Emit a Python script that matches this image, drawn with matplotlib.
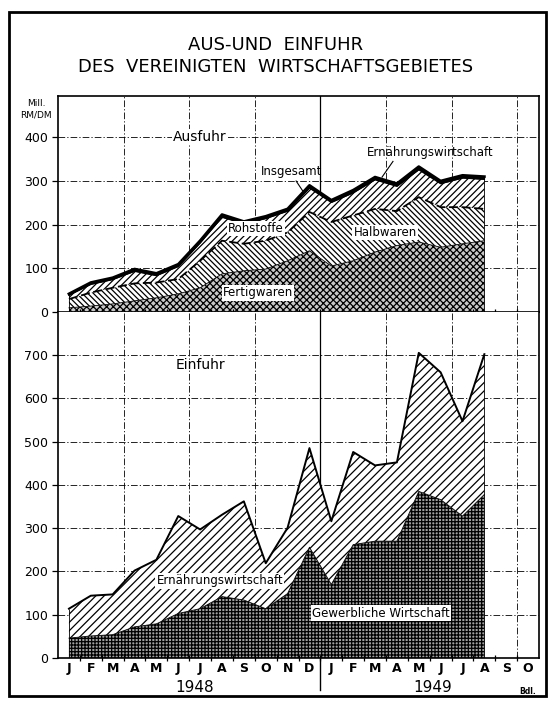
"""
Aus- und Einfuhr des Vereinigten Wirtschaftsgebietes, 1948-1949.
"""

import matplotlib
matplotlib.use("Agg")
import matplotlib.pyplot as plt
from matplotlib.patches import Rectangle
from matplotlib.lines import Line2D
import numpy as np

# months Jan 1948 .. Oct 1949 (data through Aug 1949)
month_labels = ["J", "F", "M", "A", "M", "J", "J", "A", "S", "O", "N", "D",
                "J", "F", "M", "A", "M", "J", "J", "A", "S", "O"]
years = ["1948", "1949"]

# Ausfuhr, Mill. RM/DM
aus_fertigwaren = [9, 13, 18, 25, 32, 41, 55, 87, 94, 98, 117, 140, 105, 117, 137, 152, 160, 148, 156, 163]
aus_halbwaren = [20, 31, 37, 40, 35, 34, 62, 76, 62, 65, 65, 89, 101, 104, 99, 79, 103, 92, 84, 73]
aus_rohstoffe = [9, 19, 19, 28, 16, 29, 41, 54, 46, 51, 49, 55, 45, 52, 67, 57, 63, 54, 67, 68]
aus_ernaehrung = [3, 4, 4, 5, 5, 5, 5, 6, 5, 5, 5, 6, 5, 6, 6, 6, 7, 6, 6, 6]

# Einfuhr, Mill. RM/DM
ein_gewerblich = [46, 51, 54, 72, 79, 103, 114, 142, 134, 114, 149, 256, 170, 262, 270, 270, 385, 366, 328, 378]
ein_ernaehrung = [68, 93, 93, 130, 148, 225, 183, 189, 228, 105, 152, 229, 146, 214, 175, 182, 320, 294, 219, 324]

plt.rcParams["font.family"] = ["DejaVu Sans"]
plt.rcParams["hatch.linewidth"] = 0.9

fig = plt.figure(figsize=(5.52, 7.01), dpi=100)
ax1 = fig.add_axes([0.1051, 0.5553, 0.8714, 0.3077])
ax2 = fig.add_axes([0.1051, 0.0613, 0.8714, 0.4940])

x = np.arange(len(aus_fertigwaren))
f1 = np.array(aus_fertigwaren)
f2 = f1 + np.array(aus_halbwaren)
f3 = f2 + np.array(aus_rohstoffe)
f4 = f3 + np.array(aus_ernaehrung)
g1 = np.array(ein_gewerblich)
g2 = g1 + np.array(ein_ernaehrung)

grid_kw = dict(color="black", lw=0.6, dashes=(8, 2.5, 1.5, 2.5), zorder=0.5)


def frame(ax, ymax, step):
    ax.set_xlim(-0.5, 21.5)
    ax.set_ylim(0, ymax)
    for q in [2.5, 5.5, 8.5, 14.5, 17.5, 20.5]:
        ax.axvline(q, **grid_kw)
    ax.axvline(11.5, color="black", lw=0.9, zorder=0.5)
    for v in range(step, int(ymax), step):
        ax.axhline(v, **grid_kw)
    ax.set_yticks(range(0, int(ymax), step))
    ax.tick_params(axis="y", length=4, width=0.9, pad=3, labelsize=9)
    ax.set_xticks(np.arange(0.5, 21, 1), minor=True)
    ax.tick_params(axis="x", which="minor", length=4, width=0.9, direction="inout")
    for s in ax.spines.values():
        s.set_linewidth(1.2)


# top panel: Ausfuhr
frame(ax1, 495, 100)
ax1.set_xticks([])
ax1.fill_between(x, 0, f1, facecolor="#c8c8c8", edgecolor="black", hatch="xxxxx", lw=0, zorder=1)
ax1.fill_between(x, f1, f2, facecolor="white", edgecolor="black", hatch="\\\\\\\\\\\\", lw=0, zorder=1)
ax1.fill_between(x, f2, f3, facecolor="white", edgecolor="black", hatch="/////", lw=0, zorder=1)
ax1.fill_between(x, f3, f4, facecolor="black", edgecolor="black", lw=0, zorder=1)
ax1.plot(x, f1, color="black", lw=0.6, zorder=2)
ax1.plot(x, f2, color="black", lw=1.3, dashes=(5, 2), zorder=2)
ax1.plot(x, f3, color="black", lw=1.0, zorder=2)
ax1.plot(x, f4, color="black", lw=2.0, zorder=2)
ax1.vlines([x[0], x[-1]], 0, [f4[0], f4[-1]], color="black", lw=0.6, zorder=2)

wbox = dict(facecolor="white", edgecolor="none", pad=0.8)
ax1.text(6.0, 401, "Ausfuhr", ha="center", va="center", fontsize=10, bbox=wbox, zorder=3)
ax1.text(10.2, 322, "Insgesamt", ha="center", va="center", fontsize=8.5, zorder=3)
ax1.add_line(Line2D([10.39, 10.71], [300, 276], color="black", lw=0.8, zorder=3))
ax1.text(16.5, 366, "Ernährungswirtschaft", ha="center", va="center", fontsize=8.5, zorder=3)
ax1.add_line(Line2D([14.82, 14.32], [345, 309], color="black", lw=0.8, zorder=3))
ax1.text(8.56, 191, "Rohstoffe", ha="center", va="center", fontsize=8.5, bbox=wbox, zorder=3)
ax1.text(14.46, 182, "Halbwaren", ha="center", va="center", fontsize=8.5, bbox=wbox, zorder=3)
ax1.text(8.65, 43, "Fertigwaren", ha="center", va="center", fontsize=8.5, bbox=wbox, zorder=3)

# bottom panel: Einfuhr
frame(ax2, 800, 100)
ax2.spines["top"].set_visible(False)
ax2.fill_between(x, 0, g1, facecolor="#a0a0a0", edgecolor="black", hatch="+++++", lw=0, zorder=1)
ax2.fill_between(x, g1, g2, facecolor="white", edgecolor="black", hatch="////", lw=0, zorder=1)
ax2.plot(x, g1, color="black", lw=0.6, zorder=2)
ax2.plot(x, g2, color="black", lw=1.4, zorder=2)
ax2.vlines([x[0], x[-1]], 0, [g2[0], g2[-1]], color="black", lw=0.6, zorder=2)

ax2.set_xticks(np.arange(len(month_labels)))
ax2.set_xticklabels(month_labels, fontsize=9, fontweight="bold")
ax2.tick_params(axis="x", which="major", length=0, pad=3)

ax2.text(6.0, 677, "Einfuhr", ha="center", va="center", fontsize=10, zorder=3)
ax2.text(6.9, 178, "Ernährungswirtschaft", ha="center", va="center", fontsize=8.5, bbox=wbox, zorder=3)
ax2.text(14.28, 104, "Gewerbliche Wirtschaft", ha="center", va="center", fontsize=8.5, bbox=wbox, zorder=3)

# year labels and separator below the axis
ax2.text(5.75, -67, years[0], ha="center", va="center", fontsize=11, clip_on=False)
ax2.text(16.65, -67, years[1], ha="center", va="center", fontsize=11, clip_on=False)
ax2.add_line(Line2D([11.5, 11.5], [0, -75], color="black", lw=1.0, clip_on=False))

# unit label and title
fig.text(36 / 552, 1 - 103 / 701, "Mill.", ha="center", va="center", fontsize=6.5)
fig.text(36 / 552, 1 - 115 / 701, "RM/DM", ha="center", va="center", fontsize=6.5)
fig.text(0.5, 1 - 45 / 701, "AUS-UND  EINFUHR", ha="center", va="center", fontsize=13)
fig.text(0.5, 1 - 67.5 / 701, "DES  VEREINIGTEN  WIRTSCHAFTSGEBIETES", ha="center", va="center", fontsize=13)
fig.text(528 / 552, 1 - 691 / 701, "Bdl.", ha="center", va="center", fontsize=5.5, fontweight="bold")

# outer border
fig.patches.append(Rectangle((9 / 552, 1 - 696 / 701), 537 / 552, 684 / 701,
                             transform=fig.transFigure, fill=False, lw=2.0, edgecolor="black"))

fig.savefig("out.png", dpi=100)
